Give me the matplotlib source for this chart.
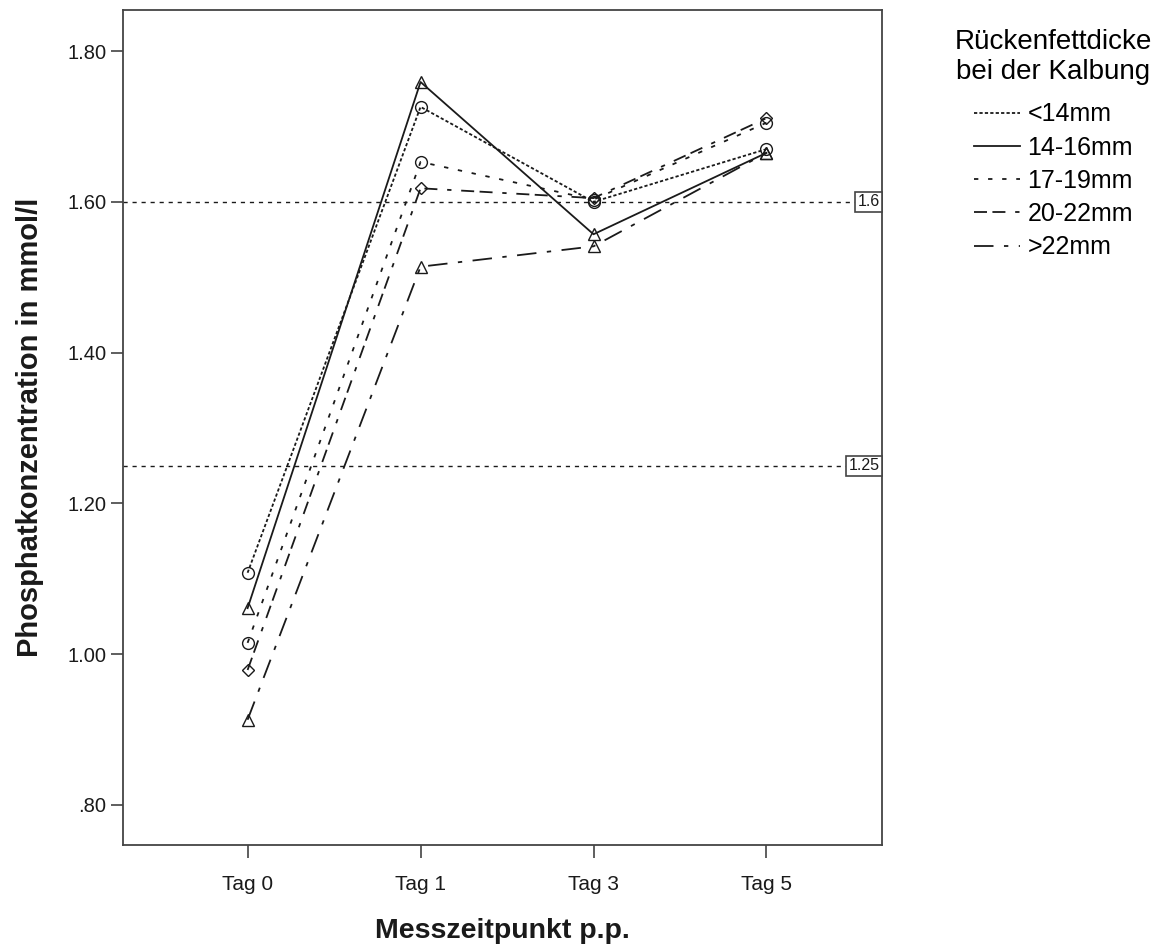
"""Phosphate concentration after calving, grouped by back-fat thickness."""

import matplotlib

matplotlib.use("Agg")
import matplotlib.pyplot as plt
from matplotlib.lines import Line2D

days = ["Tag 0", "Tag 1", "Tag 3", "Tag 5"]
groups = ["<14mm", "14-16mm", "17-19mm", "20-22mm", ">22mm"]

phosphate_lt14 = [1.108, 1.726, 1.600, 1.670]
phosphate_14_16 = [1.061, 1.759, 1.557, 1.665]
phosphate_17_19 = [1.015, 1.653, 1.603, 1.705]
phosphate_20_22 = [0.979, 1.618, 1.605, 1.711]
phosphate_gt22 = [0.913, 1.514, 1.541, 1.665]

reference_levels = [1.6, 1.25]
reference_labels = ["1.6", "1.25"]

y_ticks = [0.80, 1.00, 1.20, 1.40, 1.60, 1.80]
y_tick_labels = [".80", "1.00", "1.20", "1.40", "1.60", "1.80"]

series = [phosphate_lt14, phosphate_14_16, phosphate_17_19, phosphate_20_22, phosphate_gt22]
markers = ["o", "^", "o", "D", "^"]
marker_sizes = [8.5, 8.5, 8.5, 6.5, 8.5]
dash_styles = [
    (0, (1.8, 1.2)),
    "solid",
    (0, (2.4, 5.4)),
    (0, (7.2, 3.0, 7.2, 5.4, 2.4, 5.4)),
    (0, (10.8, 5.8, 2.4, 5.8)),
]

ink = "#1a1a1a"
font = ["Liberation Sans", "DejaVu Sans"]

fig = plt.figure(figsize=(11.61, 9.44), dpi=100)
ax = fig.add_axes([0.106, 0.105, 0.654, 0.884])

x = list(range(len(days)))
for values, marker, size, style in zip(series, markers, marker_sizes, dash_styles):
    ax.plot(
        x,
        values,
        linestyle=style,
        linewidth=1.3,
        color=ink,
        marker=marker,
        markersize=size,
        markerfacecolor="none",
        markeredgecolor=ink,
        markeredgewidth=1.0,
    )

for level, label in zip(reference_levels, reference_labels):
    ax.axhline(level, color=ink, linewidth=1.0, linestyle=(0, (3, 3.5)), zorder=1)
    ax.annotate(
        label,
        xy=(1.0, level),
        xycoords=("axes fraction", "data"),
        xytext=(-2, 0),
        textcoords="offset points",
        ha="right",
        va="center",
        fontsize=11.5,
        family=font,
        color=ink,
        bbox=dict(boxstyle="square,pad=0.15", facecolor="white", edgecolor="#444444", linewidth=1.2),
    )

ax.set_xlim(-0.72, 3.67)
ax.set_ylim(0.747, 1.854)
ax.set_xticks(x)
ax.set_xticklabels(days, family=font, fontsize=15)
ax.set_yticks(y_ticks)
ax.set_yticklabels(y_tick_labels, family=font, fontsize=14.5)
ax.tick_params(axis="both", direction="out", length=9, width=1.1, color="#333333", labelcolor=ink)
ax.tick_params(axis="x", pad=13)
ax.tick_params(axis="y", pad=3)

for spine in ax.spines.values():
    spine.set_linewidth(1.3)
    spine.set_color("#444444")

ax.set_xlabel("Messzeitpunkt p.p.", family=font, fontweight="bold", fontsize=20.5, labelpad=17, color=ink)
ax.set_ylabel(
    "Phosphatkonzentration in mmol/l", family=font, fontweight="bold", fontsize=21, labelpad=16.5, color=ink
)

handles = [Line2D([], [], color=ink, linewidth=1.3, linestyle=style) for style in dash_styles]
legend = fig.legend(
    handles,
    groups,
    title="Rückenfettdicke\nbei der Kalbung",
    loc="upper left",
    bbox_to_anchor=(0.803, 0.993),
    frameon=False,
    handlelength=1.85,
    handletextpad=0.3,
    labelspacing=0.37,
    prop={"family": font, "size": 18},
    title_fontproperties={"family": font, "size": 20},
)
legend.get_title().set_multialignment("center")
# extra room between the two-line title and the first entry
legend._legend_box.sep = 12.5

fig.savefig("out.png", dpi=100)
